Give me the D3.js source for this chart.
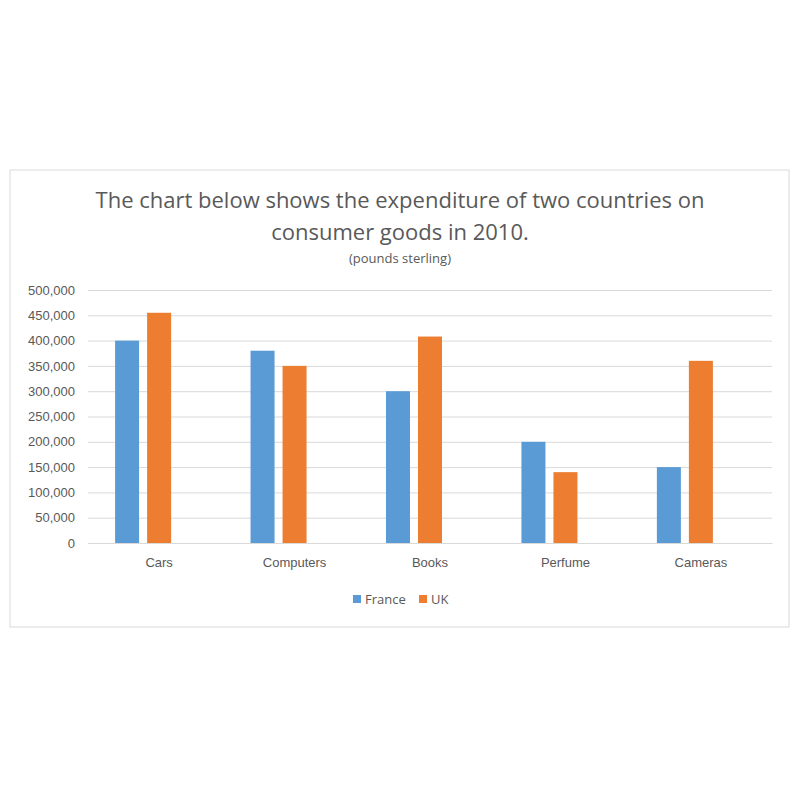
<!DOCTYPE html>
<html><head><meta charset="utf-8">
<script src="https://cdn.jsdelivr.net/npm/d3@7"></script>
<style>body{margin:0;background:#fff;font-family:"Open Sans",Calibri,sans-serif;}</style>
</head><body>
<svg class="chart" width="800" height="800"></svg>
<script>
const categories = ['Cars', 'Computers', 'Books', 'Perfume', 'Cameras'];
const france = [400000, 380000, 300000, 200000, 150000];
const uk = [455000, 350000, 408000, 140000, 360000];
const yTicks = [0, 50000, 100000, 150000, 200000, 250000, 300000, 350000, 400000, 450000, 500000];
// third slot is empty, like the source chart (bars sit left of the label)
const slots = ['France', 'UK', 'blank'];
const colors = {France: '#5b9bd5', UK: '#ed7d31'};

const svg = d3.select('.chart');
svg.append('rect').attr('x', 10).attr('y', 170).attr('width', 779).attr('height', 457)
    .attr('fill', '#fff').attr('stroke', '#d9d9d9');

const margin = {left: 88, right: 28, top: 290, bottom: 257};
const innerWidth = 800 - margin.left - margin.right;
const innerHeight = 800 - margin.top - margin.bottom;
const g = svg.append('g').attr('transform', `translate(${margin.left},${margin.top})`);

const yScale = d3.scaleLinear().domain([0, 500000]).range([innerHeight, 0]);
const xScale = d3.scaleBand().domain(categories).range([0, innerWidth]).paddingInner(0.35).paddingOuter(0.2);
const inner = d3.scaleBand().domain(slots).range([0, xScale.bandwidth()]).paddingInner(0.25);

const yAxis = d3.axisLeft(yScale).tickValues(yTicks).tickSize(-innerWidth).tickFormat(d3.format(','));
const yG = g.append('g').call(yAxis);
yG.select('.domain').remove();
yG.selectAll('.tick line').attr('stroke', '#d9d9d9');
yG.selectAll('.tick text').attr('x', -13).attr('fill', '#595959').style('font-size', '13px');

const rows = categories.map((c, i) => ({c, France: france[i], UK: uk[i]}));
['France', 'UK'].forEach(s => {
  g.selectAll('.bar-' + s).data(rows).enter().append('rect')
    .attr('x', d => xScale(d.c) + inner(s))
    .attr('y', d => yScale(d[s]))
    .attr('width', inner.bandwidth())
    .attr('height', d => innerHeight - yScale(d[s]))
    .attr('fill', colors[s]);
});

const xG = g.append('g').attr('transform', `translate(0,${innerHeight})`)
    .call(d3.axisBottom(xScale).tickSize(0).tickPadding(15));
xG.select('.domain').attr('stroke', '#d9d9d9');
xG.selectAll('.tick text').attr('fill', '#595959').style('font-size', '13px');

svg.append('text').attr('x', 400).attr('y', 208).attr('text-anchor', 'middle')
  .attr('fill', '#595959').style('font-size', '22px').text('The chart below shows the expenditure of two countries on');
svg.append('text').attr('x', 400).attr('y', 240).attr('text-anchor', 'middle')
  .attr('fill', '#595959').style('font-size', '22px').text('consumer goods in 2010.');
svg.append('text').attr('x', 400).attr('y', 263).attr('text-anchor', 'middle')
  .attr('fill', '#595959').style('font-size', '13px').text('(pounds sterling)');

const legend = [{k: 'France', x: 353}, {k: 'UK', x: 419}];
legend.forEach(l => {
  svg.append('rect').attr('x', l.x).attr('y', 595).attr('width', 8).attr('height', 8).attr('fill', colors[l.k]);
  svg.append('text').attr('x', l.x + 12).attr('y', 604).attr('fill', '#595959').style('font-size', '13px').text(l.k);
});
</script>
</body></html>
